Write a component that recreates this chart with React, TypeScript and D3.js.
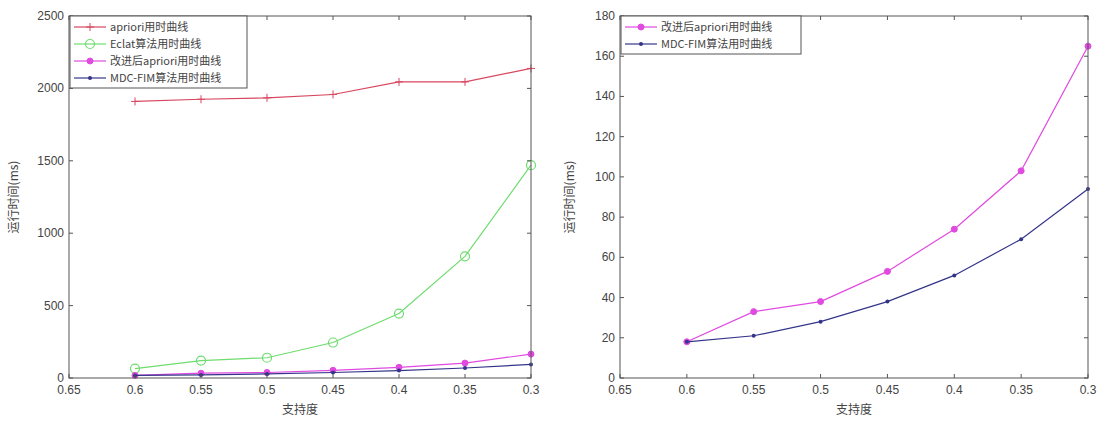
import React from "react";
import * as d3 from "d3";

const supports = [0.6, 0.55, 0.5, 0.45, 0.4, 0.35, 0.3];
const xTicks = [0.65, 0.6, 0.55, 0.5, 0.45, 0.4, 0.35, 0.3];
const xTickLabels = ["0.65", "0.6", "0.55", "0.5", "0.45", "0.4", "0.35", "0.3"];
const aprioriTimes = [1910, 1925, 1935, 1958, 2045, 2045, 2138];
const eclatTimes = [65, 120, 140, 245, 445, 840, 1470];
const improvedTimes = [18, 33, 38, 53, 74, 103, 165];
const mdcTimes = [18, 21, 28, 38, 51, 69, 94];
const leftYTicks = [0, 500, 1000, 1500, 2000, 2500];
const rightYTicks = [0, 20, 40, 60, 80, 100, 120, 140, 160, 180];
const legendLeft = ["apriori用时曲线", "Eclat算法用时曲线", "改进后apriori用时曲线", "MDC-FIM算法用时曲线"];
const legendRight = ["改进后apriori用时曲线", "MDC-FIM算法用时曲线"];
const xLabel = "支持度";
const yLabel = "运行时间(ms)";

type Series = { name: string; values: number[]; color: string; marker: string };

const COLORS = { apriori: "#d8475f", eclat: "#6fdc6f", improved: "#e04ae0", mdc: "#34348a" };

function Marker({ type, x, y, color }: { type: string; x: number; y: number; color: string }) {
  if (type === "plus")
    return (
      <g stroke={color} strokeWidth={1}>
        <line x1={x - 4} x2={x + 4} y1={y} y2={y} />
        <line x1={x} x2={x} y1={y - 4} y2={y + 4} />
      </g>
    );
  if (type === "circle") return <circle cx={x} cy={y} r={4.5} fill="none" stroke={color} strokeWidth={1.2} />;
  if (type === "star") return <circle cx={x} cy={y} r={3} fill={color} stroke={color} />;
  return <circle cx={x} cy={y} r={2} fill={color} />;
}

function Panel({
  x0, x1, y0, y1, yMax, yTicks, series, legend, legendW, yLabelX,
}: {
  x0: number; x1: number; y0: number; y1: number; yMax: number; yTicks: number[];
  series: Series[]; legend: string[]; legendW: number; yLabelX: number;
}) {
  const xs = d3.scaleLinear().domain([0.65, 0.3]).range([x0, x1]);
  const ys = d3.scaleLinear().domain([0, yMax]).range([y1, y0]);
  const line = d3.line<number>().x((_, i) => xs(supports[i])).y((d) => ys(d));
  const tickFont = "'Liberation Sans', Arial, sans-serif";
  const cjk = "'Noto Sans CJK SC', sans-serif";
  const legH = legend.length * 17 + 4;
  return (
    <g>
      {series.map((s) => (
        <g key={s.name}>
          <path d={line(s.values) || ""} fill="none" stroke={s.color} strokeWidth={1.2} />
          {s.values.map((v, i) => (
            <Marker key={i} type={s.marker} x={xs(supports[i])} y={ys(v)} color={s.color} />
          ))}
        </g>
      ))}
      <rect x={x0} y={y0} width={x1 - x0} height={y1 - y0} fill="none" stroke="#555" strokeWidth={1} />
      {xTicks.map((t, i) => (
        <g key={i}>
          <line x1={xs(t)} x2={xs(t)} y1={y1} y2={y1 - 4} stroke="#555" />
          <line x1={xs(t)} x2={xs(t)} y1={y0} y2={y0 + 4} stroke="#555" />
          <text x={xs(t)} y={y1 + 16} textAnchor="middle" fontSize={12} fill="#444" fontFamily={tickFont}>
            {xTickLabels[i]}
          </text>
        </g>
      ))}
      {yTicks.map((t) => (
        <g key={t}>
          <line x1={x0} x2={x0 + 4} y1={ys(t)} y2={ys(t)} stroke="#555" />
          <line x1={x1} x2={x1 - 4} y1={ys(t)} y2={ys(t)} stroke="#555" />
          <text x={x0 - 5} y={ys(t) + 4} textAnchor="end" fontSize={12} fill="#444" fontFamily={tickFont}>
            {t}
          </text>
        </g>
      ))}
      <text x={(x0 + x1) / 2} y={y1 + 36} textAnchor="middle" fontSize={12} fill="#444" fontFamily={cjk}>
        {xLabel}
      </text>
      <text
        transform={`translate(${yLabelX},${(y0 + y1) / 2}) rotate(-90)`}
        textAnchor="middle" fontSize={12} fill="#444" fontFamily={cjk}
      >
        {yLabel}
      </text>
      <g>
        <rect x={x0 + 1} y={y0} width={legendW} height={legH} fill="#fff" stroke="#555" strokeWidth={1} />
        {legend.map((name, i) => {
          const s = series[series.length - legend.length + i];
          const ly = y0 + 11 + i * 17;
          return (
            <g key={name}>
              <line x1={x0 + 5} x2={x0 + 37} y1={ly} y2={ly} stroke={s.color} strokeWidth={1.2} />
              <Marker type={s.marker} x={x0 + 21} y={ly} color={s.color} />
              <text x={x0 + 41} y={ly + 4} fontSize={11} fill="#444" fontFamily={cjk}>
                {name}
              </text>
            </g>
          );
        })}
      </g>
    </g>
  );
}

export default function App() {
  const leftSeries: Series[] = [
    { name: "apriori", values: aprioriTimes, color: COLORS.apriori, marker: "plus" },
    { name: "eclat", values: eclatTimes, color: COLORS.eclat, marker: "circle" },
    { name: "improved", values: improvedTimes, color: COLORS.improved, marker: "star" },
    { name: "mdc", values: mdcTimes, color: COLORS.mdc, marker: "dot" },
  ];
  const rightSeries: Series[] = [
    { name: "improved", values: improvedTimes, color: COLORS.improved, marker: "star" },
    { name: "mdc", values: mdcTimes, color: COLORS.mdc, marker: "dot" },
  ];
  return (
    <svg width={1101} height={423} style={{ position: "absolute", left: 0, top: 0, background: "#fff" }}>
      <rect width={1101} height={423} fill="#fff" />
      <Panel x0={69} x1={531} y0={16} y1={378} yMax={2500} yTicks={leftYTicks} series={leftSeries}
        legend={legendLeft} legendW={177} yLabelX={18} />
      <Panel x0={620} x1={1088} y0={16} y1={378} yMax={180} yTicks={rightYTicks} series={rightSeries}
        legend={legendRight} legendW={180} yLabelX={574} />
    </svg>
  );
}
